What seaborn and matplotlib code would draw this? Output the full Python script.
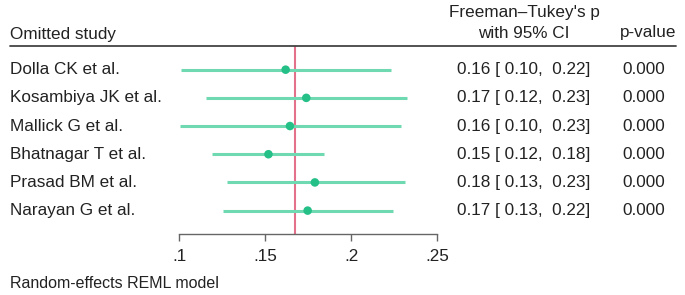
import seaborn as sns
import matplotlib.pyplot as plt
import matplotlib.transforms as mtransforms
import pandas as pd

studies = ["Dolla CK et al.", "Kosambiya JK et al.", "Mallick G et al.",
           "Bhatnagar T et al.", "Prasad BM et al.", "Narayan G et al."]
est = [0.162, 0.174, 0.1645, 0.152, 0.179, 0.1748]
lo = [0.101, 0.1155, 0.1006, 0.1192, 0.1277, 0.1255]
hi = [0.2231, 0.2324, 0.2289, 0.1845, 0.2312, 0.2243]
pvals = [0.0, 0.0, 0.0, 0.0, 0.0, 0.0]
overall = 0.1673
xticks = [0.1, 0.15, 0.2, 0.25]
xtick_labels = [".1", ".15", ".2", ".25"]

df = pd.DataFrame({"study": studies, "est": est, "lo": lo, "hi": hi,
                   "p": pvals, "row": range(len(studies))})

sns.set_style("white")
plt.rcParams["font.family"] = ["Liberation Sans", "DejaVu Sans"]

W, H = 685, 295
fig = plt.figure(figsize=(W / 100, H / 100), dpi=100)

def fx(px):
    return px / W

def fy(py):
    return 1 - py / H

ax = fig.add_axes([fx(179), fy(234), fx(437) - fx(179), fy(46) - fy(234)])

line_col = "#6fdab2"
dot_col = "#25bf88"
ax.hlines(df["row"], df["lo"], df["hi"], color=line_col, lw=2.2, zorder=2)
sns.scatterplot(data=df, x="est", y="row", color=dot_col, s=38,
                edgecolor="none", zorder=3, ax=ax, legend=False)
ax.axvline(overall, color="#e3718c", lw=1.5, zorder=1)

ax.set_xlim(0.1, 0.25)
ax.set_ylim(5.83, -0.84)
ax.set_xlabel("")
ax.set_ylabel("")
ax.set_yticks([])
ax.set_xticks(xticks)
ax.set_xticklabels(xtick_labels, fontsize=12.3, color="#222222")
for s in ["top", "left", "right"]:
    ax.spines[s].set_visible(False)
ax.spines["bottom"].set_color("#666666")
ax.spines["bottom"].set_linewidth(1.0)
ax.tick_params(axis="x", direction="out", length=5, width=1.0,
               color="#666666", pad=6, bottom=True)
ax.patch.set_alpha(0)

# table text
trans = mtransforms.blended_transform_factory(fig.transFigure, ax.transData)
txt_col = "#222222"
for _, r in df.iterrows():
    ax.text(fx(10), r["row"], r["study"], transform=trans, ha="left",
            va="center", fontsize=12.3, color=txt_col)
    ax.text(fx(524), r["row"],
            f"{r['est']:.2f} [ {r['lo']:.2f},  {r['hi']:.2f}]",
            transform=trans, ha="center", va="center", fontsize=12.3,
            color=txt_col)
    ax.text(fx(644), r["row"], f"{r['p']:.3f}", transform=trans,
            ha="center", va="center", fontsize=12.3, color=txt_col)

# header
fig.text(fx(10), fy(34), "Omitted study", ha="left", va="center",
         fontsize=12.3, color=txt_col)
fig.text(fx(524), fy(12), "Freeman–Tukey's p", ha="center", va="center",
         fontsize=12.3, color=txt_col)
fig.text(fx(524), fy(33), "with 95% CI", ha="center", va="center",
         fontsize=12.3, color=txt_col)
fig.text(fx(648), fy(33), "p-value", ha="center", va="center",
         fontsize=12.3, color=txt_col)
fig.add_artist(plt.Line2D([fx(10), fx(676)], [fy(46), fy(46)],
                          color="#444444", lw=1.3))

fig.text(fx(10), fy(283), "Random-effects REML model", ha="left",
         va="center", fontsize=11.5, color=txt_col)

fig.savefig("out.png", dpi=100)
